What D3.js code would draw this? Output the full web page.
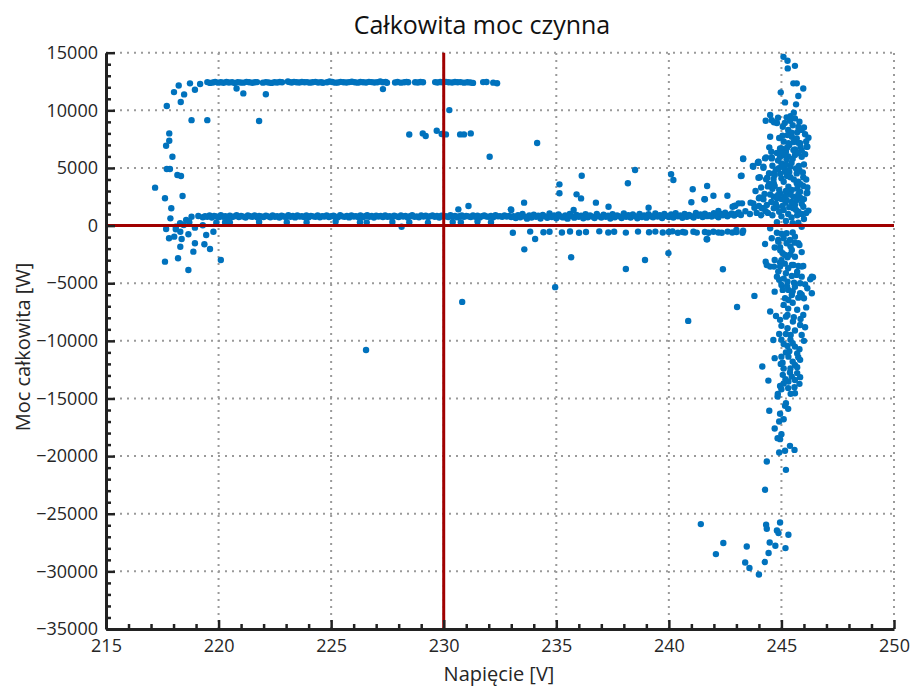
<!DOCTYPE html>
<html>
<head>
<meta charset="utf-8">
<script src="https://cdn.jsdelivr.net/npm/d3@7"></script>
<style>
  body { margin: 0; background: #fff; }
  text { font-family: "Open Sans", "Noto Sans", sans-serif; }
</style>
</head>
<body>
<svg id="chart" width="910" height="688"></svg>
<script>
// Axis ticks
const xTicks = [215, 220, 225, 230, 235, 240, 245, 250];
const yTicks = [15000, 10000, 5000, 0, -5000, -10000, -15000, -20000, -25000, -30000, -35000];
const xMinor = [216, 217, 218, 219, 221, 222, 223, 224, 226, 227, 228, 229, 231, 232, 233, 234,
                236, 237, 238, 239, 241, 242, 243, 244, 246, 247, 248, 249];
const yMinor = [14000, 13000, 12000, 11000, 9000, 8000, 7000, 6000, 4000, 3000, 2000, 1000,
                -1000, -2000, -3000, -4000, -6000, -7000, -8000, -9000, -11000, -12000, -13000, -14000,
                -16000, -17000, -18000, -19000, -21000, -22000, -23000, -24000, -26000, -27000, -28000, -29000,
                -31000, -32000, -33000, -34000];

// Measurements: [voltage V, total active power W]
// Saturated power level around 12.4 kW
const upperRow = [
  [219.5,12450],[219.62,12380],[219.75,12420],[219.85,12470],[219.98,12400],[220.1,12430],[220.22,12390],
  [220.35,12460],[220.46,12410],[220.6,12440],[220.72,12380],[220.85,12450],[220.97,12420],[221.1,12400],
  [221.24,12470],[221.36,12430],[221.5,12390],[221.62,12440],[221.71,12450],
  [221.97,12400],[222.1,12450],[222.22,12420],[222.35,12380],[222.48,12440],[222.6,12410],[222.72,12460],[222.82,12430],
  [223.08,12500],[223.15,12450],[223.25,12420],[223.35,12470],[223.46,12440],[223.58,12410],[223.7,12460],
  [223.82,12430],[223.93,12450],[224.05,12400],[224.17,12440],[224.3,12470],[224.42,12420],[224.55,12440],[224.64,12390],
  [224.82,12430],[224.93,12500],[225.05,12460],[225.18,12400],[225.3,12420],[225.42,12470],[225.55,12440],
  [225.68,12410],[225.8,12450],[225.92,12480],[226.05,12430],[226.18,12400],[226.3,12460],[226.42,12440],
  [226.55,12420],[226.68,12470],[226.8,12450],[226.92,12410],[227.05,12440],[227.18,12500],[227.3,12430],
  [227.42,12460],[227.48,12390],
  [227.84,12420],[227.95,12460],[228.1,12400],[228.25,12440],[228.35,12470],[228.42,12430],
  [228.73,12440],[228.85,12410],[228.97,12460],[229.08,12430],
  [229.62,12450],[229.72,12420],[229.85,12460],[229.95,12430],[230.1,12470],[230.22,12440],[230.37,12410],
  [230.5,12460],[230.62,12430],[230.75,12450],[230.9,12400],[231.05,12440],[231.18,12420],[231.3,12380],
  [231.75,12450],[231.9,12460],[232.2,12400],[232.37,12350]
];

const upperOutliers = [
  [220.8,11900],[221.1,11470],[222.1,11400],[227.3,11840],[221.8,9070],[230.25,10020],
  [228.47,7900],[229.07,8000],[229.2,7770],[229.69,8230],[229.91,7940],[230.1,7910],
  [230.73,7910],[230.9,7910],[231.2,8000],[232.04,5970]
];

// Low-voltage start-up region
const leftArc = [
  [217.7,10370],[218.02,11580],[218.23,12160],[218.32,10720],[218.47,11380],[218.73,12340],[218.95,11780],
  [219.18,12280],[218.8,9150],[219.5,9150],[217.81,8000],[217.81,7360],[217.67,6930],
  [217.95,5970],[217.7,4910],[217.84,4910],[218.17,4390],[218.33,4300],[217.18,3290],[217.62,2370],
  [218.4,2570],[217.9,1500],
  [217.67,-295],[218.1,-320],[217.8,-1100],[218.03,-960],[218.3,-530],[218.36,-1160],[218.66,-755],
  [218.95,-180],[218.3,-1830],[218.2,-2840],[217.62,-3130],[218.66,-3850],[218.88,-2260],[218.95,-1535],
  [219.37,-1620],[219.45,-815],[219.62,-2030],[219.77,-530],[220.1,-2980],[219.3,30],
  [217.86,630],[218.29,200],[218.56,485],[218.8,770],[219.1,830],[218.45,50],[218.1,-100],[218.7,300]
];

// Main operating band
const bandV = [
  219.3,219.4,219.5,219.6,219.7,219.8,219.9,220.0,220.1,220.2,
  220.3,220.4,220.5,220.6,220.7,220.8,220.9,221.0,221.1,221.2,
  221.3,221.4,221.5,221.6,221.7,221.8,221.9,222.0,222.1,222.2,
  222.3,222.4,222.5,222.6,222.7,222.8,222.9,223.0,223.1,223.2,
  223.3,223.4,223.5,223.6,223.7,223.8,223.9,224.0,224.1,224.2,
  224.3,224.4,224.5,224.6,224.7,224.8,224.9,225.0,
  225.1,225.2,225.3,225.4,225.5,225.6,225.7,225.8,225.9,226.0,
  226.1,226.2,226.3,226.4,226.5,226.6,226.7,226.8,226.9,227.0,
  227.1,227.2,227.3,227.4,227.5,227.6,227.7,227.8,227.9,228.0,
  228.1,228.2,228.3,228.4,228.5,228.6,228.7,228.8,228.9,229.0,
  229.1,229.2,229.3,229.4,229.5,229.6,229.7,229.8,229.9,230.0,
  230.1,230.2,230.3,230.4,230.5,230.6,230.7,230.8,230.9,231.0,
  231.1,231.2,231.3,231.4,231.5,231.6,231.7,231.8,231.9,232.0,
  232.1,232.2,232.3,232.4,232.5,232.6,232.7,232.8,232.9,233.0,
  233.1,233.2,233.3,233.4,233.5,233.6,233.7,233.8,233.9,234.0,
  234.1,234.2,234.3,234.4,234.5,234.6,234.7,234.8,234.9,235.0,
  235.1,235.2,235.3,235.4,235.5,235.6,235.7,235.8,235.9,236.0,
  236.1,236.2,236.3,236.4,236.5,236.6,236.7,236.8,236.9,237.0,
  237.1,237.2,237.3,237.4,237.5,237.6,237.7,237.8,237.9,238.0,
  238.1,238.2,238.3,238.4,238.5,238.6,238.7,238.8,238.9,239.0,
  239.1,239.2,239.3,239.4,239.5,239.6,239.7,239.8,239.9,240.0,
  240.1,240.2,240.3,240.4,240.5,240.6,240.7,240.8,240.9,241.0,
  241.1,241.2,241.3,241.4,241.5,241.6,241.7,241.8,241.9,242.0,
  242.1,242.2,242.3,242.4,242.5,242.6,242.7,242.8,242.9,243.0,
  243.1,243.2
];
const bandP = [
  720,810,760,880,700,840,790,730,900,770,
  820,690,860,750,800,910,740,830,780,700,
  870,810,760,890,720,840,790,750,860,800,
  730,880,770,820,700,850,790,740,900,760,
  830,710,870,780,810,750,890,720,840,800,
  760,870,730,820,790,880,740,810,
  850,770,720,900,800,760,840,710,880,790,
  820,750,870,730,810,900,760,840,700,860,
  790,830,740,890,770,810,720,860,800,750,
  880,780,840,710,820,900,760,800,730,870,
  790,850,740,810,880,760,830,700,860,790,
  820,750,900,780,840,720,810,870,760,830,
  800,740,890,770,850,710,820,880,790,760,
  840,730,900,800,820,760,870,780,830,750,
  820,650,900,730,1000,780,600,880,700,950,
  760,850,620,920,800,680,1050,740,870,640,
  960,790,710,880,600,1000,820,690,930,760,
  850,630,980,720,880,780,650,1020,800,700,
  940,760,860,620,990,730,890,800,660,1050,
  770,900,700,960,820,640,1000,750,880,690,
  980,810,720,1060,780,900,650,1000,830,740,
  960,700,1080,800,880,680,1020,760,930,820,
  700,1100,850,960,740,1040,820,900,780,1080,
  860,720,1000,900,1120,800,950,1060,880,1000,
  1150,920
];

// Points just off the main band
const bandEdges = [
  [219.9,250],[220.29,300],[220.5,280],[221.8,320],[223.03,300],[223.91,280],[225.2,350],[226.28,300],
  [226.58,280],[227.72,320],[228.13,-95],[228.47,300],[229.3,250],[230.4,310],[230.76,290],[231.5,350],
  [232.1,300],[230.65,1410],[231.1,1700],[232.98,1410]
];

// Reverse-flow row between 233 V and 243 V
const lowerRow = [
  [233.07,-615],[233.84,-520],[234.06,-1160],[234.43,-580],[234.7,-540],[235.25,-600],[235.61,-510],
  [236.01,-620],[236.32,-560],[236.91,-500],[237.31,-600],[237.57,-540],[238.09,-610],[238.63,-520],
  [239.12,-580],[239.73,-600],[240.16,-500],[240.4,-620],[240.62,-560],[240.72,-600],[241.09,-530],
  [241.24,-610],[241.6,-560],[241.76,-615],[241.98,-540],[242.2,-600],[242.35,-615],[242.61,-520],
  [242.82,-600],[243.0,-560],[243.27,-620],[241.68,-1190],[240.0,-560],[239.4,-520]
];

// Scattered points in the mid-voltage range
const midScatter = [
  [230.82,-6620],[226.55,-10800],[234.95,-5340],[234.15,7160],[240.86,-8270],[243.03,-7060],
  [233.57,1990],[235.14,3580],[235.14,2800],[236.13,4330],[235.9,2710],[236.1,2360],[235.77,1350],
  [236.76,1990],[237.32,1640],[238.18,3670],[238.5,4820],[239.1,1550],[233.0,1350],[233.58,-2060],
  [235.66,-2750],[238.09,-3760],[238.94,-2980],[239.98,-2400],[240.1,4450],[240.2,3950],[241.06,3150],
  [241.0,2020],[241.7,3430],[241.58,2280],[241.98,2590],[242.6,2590],[243.23,4330],[243.3,5770],
  [242.91,1700],[242.2,1270],[243.73,5170],[243.95,5450],[243.98,4150],[241.7,-1190],[242.4,-3790]
];

// High-voltage cluster, positive power
const rightUpper = [
  [245.09,14640],[245.27,14300],[245.6,13860],[245.28,13640],[245.53,12340],[245.68,12340],[245.97,11900],
  [244.97,11560],[245.75,11240],[245.16,10690],[245.65,10520],
  [244.5,9590],[244.3,9100],[244.57,9150],[244.67,8960],[245.23,9390],[245.38,9100],[245.6,9300],
  [245.8,9010],[245.06,8570],[246.0,8520],[244.5,7710],[245.27,7850],[245.46,7710],[245.68,7570],
  [246.2,7620],[246.05,7920],[246.12,6840],[245.83,7140],[244.46,6790],[245.0,6700],[245.2,6410],
  [245.35,6990],[245.53,6550],[243.3,5830],[244.27,5830],[244.57,5830],[244.94,5970],[245.23,5750],
  [245.6,6120],[245.9,5970],[243.75,5110],[243.98,5450],[244.2,5020],[243.2,4300],[244.04,4190],
  [244.37,4150],[244.66,4530],[244.88,4970],[245.18,4820],[245.4,5110],[245.77,5170],[244.45,3610],
  [244.7,3430],[245.1,3810],[245.31,3370],[245.68,3670],[245.97,4190],[245.97,3430],[241.6,2280],
  [244.04,2450],[244.2,2280],[244.66,2510],[244.94,2800],[245.23,2850],[245.53,2510],[245.83,2940],
  [246.12,2800],[242.95,1730],[243.25,1930],[243.75,1930],[244.13,1500],[244.35,1790],[244.8,1640],
  [245.18,1990],[245.6,1790],[245.97,1640],[246.0,570],[245.75,250],
  [243.98,5540],[244.2,5110],[244.32,5920],[244.57,5920],[244.94,6700],[245.31,7140],[245.75,7190],
  [246.15,6840],[244.7,4390],[245.16,4670],[245.68,4530],[244.32,4010],[244.66,3670],[245.46,3090],
  [245.75,3810],[246.15,2850],[244.8,2370],[245.23,2220],[245.68,2220],[242.83,1640],[243.1,1930],
  [243.63,1990],[244.0,2370],[244.2,1500],[244.66,1500],[245.1,1350],[245.53,1500],[245.75,1200],
  [244.4,1100],[244.6,900],[244.9,1200],[245.0,800],[245.3,1000],[245.45,700],[245.7,900],[245.9,1000],
  [246.1,1100],[245.2,400],[244.8,300],[245.5,200],[245.9,-100],[244.3,1250],[243.9,1100],[243.6,1000],
  [243.4,1250],[244.1,900],
  [245.4,4200],[245.0,4100],[245.5,5800],[245.3,6000],[244.8,6300],[245.6,6600],[245.9,6500],[245.1,7300],
  [244.9,7600],[245.7,8100],[245.3,8300],[244.8,8900],[245.5,8700],[245.9,8300],[246.1,7300],[245.2,5300],
  [245.0,5400],[244.6,5200],[245.8,4800],[246.0,5300],[245.4,2700],[245.0,2300],[244.5,2700],[245.7,3200],
  [246.0,2300],[244.9,3100],[245.2,3000],[244.6,3200],[245.9,1900],[246.2,1300],
  [244.75,1900],[245.05,1700],[245.35,1600],[245.65,1350],[245.85,2400],[244.55,2050],[244.85,2650],
  [245.15,2550],[245.45,2050],[245.75,2700],[244.65,4050],[244.95,4500],[245.25,4300],[245.55,4000],
  [245.85,3600],[244.75,4850],[245.05,5100],[245.35,4650],[245.65,4950],[245.95,4600],[244.85,5650],
  [245.15,6100],[245.45,5450],[245.75,6300],[244.95,6350],[245.25,6750],[245.55,7250],[245.85,6800],
  [245.05,7800],[245.45,8050],[245.75,8550],[245.15,8900],[245.4,9500],[244.85,9350],[245.55,9800],
  [246.05,6200],[246.1,4000],[246.15,3300],[244.4,3400],[244.45,4550],[244.25,2750],[244.55,6400],
  [243.85,3000],[244.1,3300],[244.0,1700],[243.8,1550]
];

// High-voltage cluster, negative power
const rightLower = [
  [244.5,-235],[244.8,-615],[244.27,-1600],[244.57,-1100],[244.86,-1250],[245.23,-670],[245.38,-1250],
  [245.6,-960],[245.75,-1535],[245.05,-2400],[245.27,-2750],[245.46,-2115],[244.94,-1880],[244.86,-1400],
  [245.23,-1535],[245.6,-1480],[245.8,-1680],[245.27,-2640],[244.3,-3130],[244.5,-3560],[244.67,-3560],
  [244.94,-3210],[245.46,-3420],[245.75,-3500],[245.97,-3500],[244.86,-3990],[244.8,-4430],[245.2,-4140],
  [245.46,-4370],[245.68,-4280],[245.9,-4430],[246.4,-4480],[246.28,-4660],[245.27,-4860],[245.56,-4950],
  [245.83,-5000],[246.15,-5440],[246.35,-5870],[245.0,-5150],[244.7,-5730],[245.06,-5580],[245.31,-5580],
  [245.46,-6020],[245.83,-5870],[246.0,-6300],[245.16,-6300],[245.31,-6450],[243.8,-6100],[245.1,-6880],
  [244.5,-7460],[244.76,-7840],[244.94,-8180],[245.27,-7750],[245.51,-8330],[245.97,-7750],[245.83,-8620],
  [246.05,-8820],[245.27,-8900],[245.2,-9400],[245.41,-9490],[245.9,-9490],[244.64,-9920],[245.1,-10270],
  [245.27,-10440],[245.6,-10500],[245.8,-10720],[244.7,-11500],[245.0,-11370],[245.31,-11370],[245.75,-11420],
  [245.83,-11650],[244.97,-12000],[244.15,-12230],[245.6,-12090],[245.7,-12290],[245.06,-12950],[245.38,-12750],
  [245.46,-13100],[245.83,-13150],[245.18,-13330],[245.31,-13530],[244.42,-13450],[245.58,-14020],[245.8,-13730],
  [244.94,-13910],[245.41,-14600],[245.6,-14540],[244.84,-14600],[244.83,-14830],[245.2,-15410],[245.16,-15640],
  [244.46,-16070],[244.94,-16330],[244.9,-17000],[244.83,-18440],[244.94,-18530],[245.38,-19110],[245.16,-19540],
  [245.58,-19460],[244.9,-19690],[244.35,-20470],[245.2,-21190],[244.27,-22920],[241.42,-25900],[244.32,-25960],
  [244.35,-26300],[244.94,-25760],[244.8,-26450],[244.87,-26680],[245.31,-26820],[244.48,-27490],[244.73,-27780],
  [245.18,-27980],[244.43,-28410],[244.26,-29190],[244.0,-30270],[243.58,-29710],[243.39,-29230],[243.46,-27840],
  [242.42,-27540],[242.09,-28500],
  [243.0,-380],[243.3,-440],[244.7,-2980],[245.16,-2550],[244.35,-3420],[244.94,-3560],[245.53,-3420],
  [245.9,-3560],[246.35,-4430],
  [245.0,-700],[245.5,-600],[245.1,-1100],[244.7,-1900],[245.4,-1800],[245.9,-2300],[245.6,-2700],[245.0,-3000],
  [245.3,-3700],[245.1,-4600],[245.6,-5300],[245.9,-6000],[245.5,-6700],[245.7,-7300],[245.3,-7200],[246.1,-7100],
  [245.0,-8700],[245.6,-9100],[244.9,-9400],[245.4,-9900],[246.0,-10000],[245.2,-11000],[245.5,-11800],
  [245.1,-12400],[245.7,-12800],[245.0,-14200],[245.3,-14100],[245.1,-16800],[245.3,-15900],[244.7,-17600],
  [245.0,-18100],
  [244.95,-2150],[245.15,-3300],[245.4,-2500],[245.7,-4000],[246.05,-5100],[244.9,-4700],[245.25,-5250],
  [245.5,-5700],[245.75,-6250],[245.2,-7900],[245.55,-7950],[245.85,-8100],[245.0,-9900],[245.5,-10200],
  [245.35,-10900],[245.7,-11100],[245.05,-11900],[245.4,-12400],[245.6,-13400],[245.1,-13700]
];

const bandPoints = bandV.map((v, i) => [v, bandP[i]]);
const allPoints = [].concat(upperRow, upperOutliers, leftArc, bandPoints, bandEdges,
                            lowerRow, midScatter, rightUpper, rightLower);

const svg = d3.select("#chart");
const plotLeft = 106, plotRight = 894, plotTop = 52.7, plotBottom = 629;

const x = d3.scaleLinear().domain([215, 250]).range([plotLeft, plotRight]);
const y = d3.scaleLinear().domain([-35000, 15000]).range([plotBottom, plotTop]);

// Dotted grid
const grid = svg.append("g").attr("stroke", "#9a9a9a").attr("stroke-width", 2)
  .attr("stroke-dasharray", "2,5").attr("fill", "none");
grid.selectAll("line.h").data(yTicks.filter(t => t !== -35000)).join("line")
  .attr("class", "h").attr("x1", plotLeft).attr("x2", plotRight)
  .attr("y1", d => y(d)).attr("y2", d => y(d));
grid.selectAll("line.v").data(xTicks.filter(t => t !== 215)).join("line")
  .attr("class", "v").attr("y1", plotBottom).attr("y2", plotTop)
  .attr("x1", d => x(d)).attr("x2", d => x(d));

// Scatter points
svg.append("g").attr("fill", "#0072BD")
  .selectAll("circle").data(allPoints).join("circle")
  .attr("cx", d => x(d[0])).attr("cy", d => y(d[1])).attr("r", 3.2);

// Reference lines at 230 V and 0 W
const ref = svg.append("g").attr("stroke", "#a00000").attr("stroke-width", 3);
ref.append("line").attr("x1", x(230)).attr("x2", x(230)).attr("y1", plotTop).attr("y2", plotBottom);
ref.append("line").attr("x1", plotLeft).attr("x2", plotRight).attr("y1", y(0)).attr("y2", y(0));

// Axes
function styleAxis(g) {
  g.selectAll("path.domain").attr("stroke", "#222").attr("stroke-width", 3);
  g.selectAll(".tick line").attr("stroke", "#222").attr("stroke-width", 2.5);
  g.selectAll(".tick text").attr("fill", "#262626").style("font-size", "18px")
    .style("font-family", "'Open Sans', 'Noto Sans', sans-serif");
}

svg.append("g").attr("transform", `translate(${plotLeft},0)`)
  .call(d3.axisLeft(y).tickValues(yMinor).tickSize(-5).tickFormat(""))
  .call(g => g.select(".domain").remove())
  .call(styleAxis);
svg.append("g").attr("transform", `translate(0,${plotBottom})`)
  .call(d3.axisBottom(x).tickValues(xMinor).tickSize(-5).tickFormat(""))
  .call(g => g.select(".domain").remove())
  .call(styleAxis);

svg.append("g").attr("transform", `translate(${plotLeft},0)`)
  .call(d3.axisLeft(y).tickValues(yTicks).tickSizeInner(-9).tickSizeOuter(0).tickPadding(8)
    .tickFormat(d3.format("d")))
  .call(styleAxis);
svg.append("g").attr("transform", `translate(0,${plotBottom})`)
  .call(d3.axisBottom(x).tickValues(xTicks).tickSizeInner(-9).tickSizeOuter(0).tickPadding(10)
    .tickFormat(d3.format("d")))
  .call(styleAxis);

// Titles
svg.append("text").attr("x", 482).attr("y", 34).attr("text-anchor", "middle")
  .attr("fill", "#111").style("font-size", "25px").text("Całkowita moc czynna");
svg.append("text").attr("x", 499).attr("y", 681).attr("text-anchor", "middle")
  .attr("fill", "#262626").style("font-size", "20px").text("Napięcie [V]");
svg.append("text").attr("transform", "translate(30,347) rotate(-90)").attr("text-anchor", "middle")
  .attr("fill", "#262626").style("font-size", "20px").text("Moc całkowita [W]");
</script>
</body>
</html>
